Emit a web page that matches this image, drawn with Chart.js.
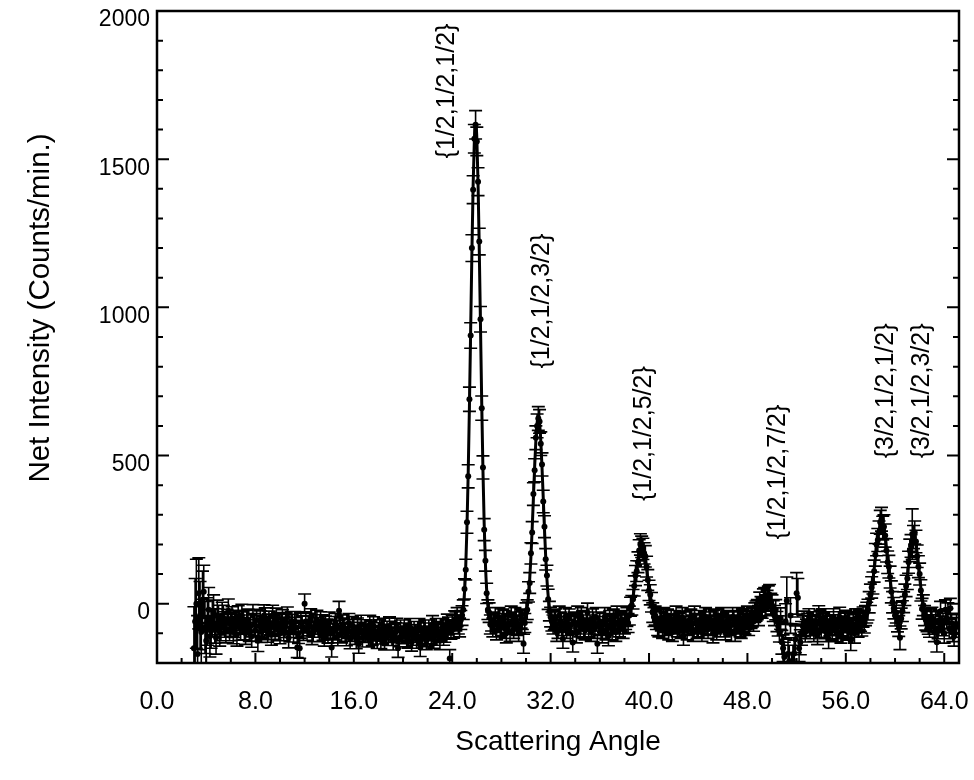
<!DOCTYPE html>
<html><head><meta charset="utf-8">
<script src="https://cdn.jsdelivr.net/npm/chart.js@4.4.1/dist/chart.umd.min.js"></script>
<style>html,body{margin:0;padding:0;background:#fff}#wrap{width:974px;height:780px;position:relative}</style>
</head><body><div id="wrap"><canvas id="c"></canvas></div>
<script>
const FONT = "'Liberation Sans', Arial, Helvetica, sans-serif";

// Scattering angle of each measured point (degrees)
const angles = [
3,3.1,3.2,3.3,3.4,3.5,3.6,3.7,3.8,3.9,
4,4.1,4.2,4.3,4.4,4.5,4.6,4.7,4.8,4.9,
5,5.1,5.2,5.3,5.4,5.5,5.6,5.7,5.8,5.9,
6,6.1,6.2,6.3,6.4,6.5,6.6,6.7,6.8,6.9,
7,7.1,7.2,7.3,7.4,7.5,7.6,7.7,7.8,7.9,
8,8.1,8.2,8.3,8.4,8.5,8.6,8.7,8.8,8.9,
9,9.1,9.2,9.3,9.4,9.5,9.6,9.7,9.8,9.9,
10,10.1,10.2,10.3,10.4,10.5,10.6,10.7,10.8,10.9,
11,11.1,11.2,11.3,11.4,11.5,11.6,11.7,11.8,11.9,
12,12.1,12.2,12.3,12.4,12.5,12.6,12.7,12.8,12.9,
13,13.1,13.2,13.3,13.4,13.5,13.6,13.7,13.8,13.9,
14,14.1,14.2,14.3,14.4,14.5,14.6,14.7,14.8,14.9,
15,15.1,15.2,15.3,15.4,15.5,15.6,15.7,15.8,15.9,
16,16.1,16.2,16.3,16.4,16.5,16.6,16.7,16.8,16.9,
17,17.1,17.2,17.3,17.4,17.5,17.6,17.7,17.8,17.9,
18,18.1,18.2,18.3,18.4,18.5,18.6,18.7,18.8,18.9,
19,19.1,19.2,19.3,19.4,19.5,19.6,19.7,19.8,19.9,
20,20.1,20.2,20.3,20.4,20.5,20.6,20.7,20.8,20.9,
21,21.1,21.2,21.3,21.4,21.5,21.6,21.7,21.8,21.9,
22,22.1,22.2,22.3,22.4,22.5,22.6,22.7,22.8,22.9,
23,23.1,23.2,23.3,23.4,23.5,23.6,23.7,23.8,23.9,
24,24.1,24.2,24.3,24.4,24.5,24.6,24.7,24.8,24.9,
25,25.1,25.2,25.3,25.4,25.5,25.6,25.7,25.8,25.9,
26,26.1,26.2,26.3,26.4,26.5,26.6,26.7,26.8,26.9,
27,27.1,27.2,27.3,27.4,27.5,27.6,27.7,27.8,27.9,
28,28.1,28.2,28.3,28.4,28.5,28.6,28.7,28.8,28.9,
29,29.1,29.2,29.3,29.4,29.5,29.6,29.7,29.8,29.9,
30,30.1,30.2,30.3,30.4,30.5,30.6,30.7,30.8,30.9,
31,31.1,31.2,31.3,31.4,31.5,31.6,31.7,31.8,31.9,
32,32.1,32.2,32.3,32.4,32.5,32.6,32.7,32.8,32.9,
33,33.1,33.2,33.3,33.4,33.5,33.6,33.7,33.8,33.9,
34,34.1,34.2,34.3,34.4,34.5,34.6,34.7,34.8,34.9,
35,35.1,35.2,35.3,35.4,35.5,35.6,35.7,35.8,35.9,
36,36.1,36.2,36.3,36.4,36.5,36.6,36.7,36.8,36.9,
37,37.1,37.2,37.3,37.4,37.5,37.6,37.7,37.8,37.9,
38,38.1,38.2,38.3,38.4,38.5,38.6,38.7,38.8,38.9,
39,39.1,39.2,39.3,39.4,39.5,39.6,39.7,39.8,39.9,
40,40.1,40.2,40.3,40.4,40.5,40.6,40.7,40.8,40.9,
41,41.1,41.2,41.3,41.4,41.5,41.6,41.7,41.8,41.9,
42,42.1,42.2,42.3,42.4,42.5,42.6,42.7,42.8,42.9,
43,43.1,43.2,43.3,43.4,43.5,43.6,43.7,43.8,43.9,
44,44.1,44.2,44.3,44.4,44.5,44.6,44.7,44.8,44.9,
45,45.1,45.2,45.3,45.4,45.5,45.6,45.7,45.8,45.9,
46,46.1,46.2,46.3,46.4,46.5,46.6,46.7,46.8,46.9,
47,47.1,47.2,47.3,47.4,47.5,47.6,47.7,47.8,47.9,
48,48.1,48.2,48.3,48.4,48.5,48.6,48.7,48.8,48.9,
49,49.1,49.2,49.3,49.4,49.5,49.6,49.7,49.8,49.9,
50,50.1,50.2,50.3,50.4,50.5,50.6,50.7,50.8,50.9,
51,51.1,51.2,51.3,51.4,51.5,51.6,51.7,51.8,51.9,
52,52.1,52.2,52.3,52.4,52.5,52.6,52.7,52.8,52.9,
53,53.1,53.2,53.3,53.4,53.5,53.6,53.7,53.8,53.9,
54,54.1,54.2,54.3,54.4,54.5,54.6,54.7,54.8,54.9,
55,55.1,55.2,55.3,55.4,55.5,55.6,55.7,55.8,55.9,
56,56.1,56.2,56.3,56.4,56.5,56.6,56.7,56.8,56.9,
57,57.1,57.2,57.3,57.4,57.5,57.6,57.7,57.8,57.9,
58,58.1,58.2,58.3,58.4,58.5,58.6,58.7,58.8,58.9,
59,59.1,59.2,59.3,59.4,59.5,59.6,59.7,59.8,59.9,
60,60.1,60.2,60.3,60.4,60.5,60.6,60.7,60.8,60.9,
61,61.1,61.2,61.3,61.4,61.5,61.6,61.7,61.8,61.9,
62,62.1,62.2,62.3,62.4,62.5,62.6,62.7,62.8,62.9,
63,63.1,63.2,63.3,63.4,63.5,63.6,63.7,63.8,63.9,
64,64.1,64.2,64.3,64.4,64.5,64.6,64.7,64.8,64.9,
65
];

// Net intensity (counts/min.) of each point
const counts = [
-150,-60,0,-170,35,-40,-95,10,40,-80,
-125,-60,-20,-110,-85,-50,-30,-75,-115,-40,
-55,-95,-80,-40,-50,-70,-90,-60,-24,-85,
-70,-50,-95,-75,-60,-105,-45,-65,-85,-40,
-65,-85,-100,-60,-55,-90,-75,-110,-40,-70,
-90,-55,-125,-75,-60,-95,-80,-40,-50,-85,
-95,-60,-70,-105,-40,-75,-85,-50,-65,-90,
-100,-70,-55,-90,-80,-65,-45,-115,-95,-60,
-70,-95,-60,-80,-148,-100,-150,-65,-75,-90,
0,-60,-90,-75,-65,-50,-105,-95,-80,-70,
-55,-80,-95,-60,-70,-90,-110,-75,-85,-100,
-60,-85,-148,-100,-90,-65,-75,-110,-24,-80,
-100,-70,-80,-95,-110,-85,-65,-120,-95,-75,
-85,-105,-120,-80,-135,-95,-70,-115,-100,-85,
-85,-100,-115,-70,-90,-110,-75,-95,-105,-120,
-95,-85,-120,-105,-80,-125,-100,-90,-110,-75,
-90,-110,-125,-100,-95,-80,-150,-115,-85,-105,
-105,-85,-95,-115,-120,-100,-80,-130,-110,-90,
-100,-120,-90,-80,-148,-110,-105,-95,-85,-125,
-115,-85,-95,-105,-70,-120,-110,-80,-90,-100,
-125,-95,-80,-110,-100,-85,-65,-75,-185,-90,
-70,-85,-55,-60,-45,-70,-80,-55,-40,-20,
50,115,275,430,690,905,1200,1397,1569,1616,
1560,1424,1222,960,660,460,250,145,35,-20,
-30,-70,-60,-80,-60,-45,-90,-65,-45,-80,
-75,-50,-55,-85,-100,-70,-65,-95,-40,-60,
-85,-45,-60,-75,-95,-70,-50,-55,-135,-65,
-30,-20,40,70,170,240,370,450,560,600,
625,615,540,470,345,260,150,95,15,-25,
-45,-60,-70,-55,-50,-95,-85,-40,-60,-75,
-118,-65,-45,-85,-75,-50,-95,-70,-131,-60,
-65,-100,-40,-70,-80,-45,-55,-85,-90,-60,
-30,-80,-70,-95,-50,-60,-85,-45,-135,-75,
-60,-85,-100,-65,-45,-90,-75,-110,-55,-70,
-90,-50,-65,-95,-40,-70,-80,-60,-55,-85,
-70,-55,-45,-65,-40,-10,-5,15,60,95,
110,140,180,200,192,185,170,160,125,80,
45,30,5,-30,-45,-40,-55,-75,-80,-50,
-60,-85,-45,-65,-75,-50,-90,-70,-55,-95,
-70,-55,-40,-80,-65,-60,-85,-45,-108,-75,
-60,-90,-75,-55,-50,-70,-95,-40,-65,-85,
-80,-65,-55,-95,-70,-60,-45,-75,-85,-50,
-60,-75,-100,-55,-70,-90,-50,-65,-80,-45,
-65,-80,-90,-60,-55,-70,-75,-95,-45,-55,
-95,-70,-60,-45,-80,-85,-50,-65,-70,-55,
-40,-75,-60,-50,-45,-60,-30,-25,-20,-40,
5,-10,-15,15,20,-5,10,25,30,0,
-5,-25,-40,-20,-60,-75,-95,-50,-130,-150,
-180,-60,10,-170,-195,-40,-215,-190,-168,-120,
35,20,-150,-130,-100,-75,-60,-95,-85,-65,
-50,-85,-75,-60,-95,-70,-60,-105,-40,-55,
-80,-50,-65,-85,-95,-60,-118,-75,-70,-90,
-50,-70,-85,-95,-60,-45,-100,-80,-75,-65,
-55,-90,-85,-60,-125,-80,-70,-100,-50,-65,
-80,-55,-60,-75,-45,-65,-40,-30,-20,5,
30,55,70,110,165,200,215,240,275,285,
255,260,230,180,140,125,90,40,5,-15,
-40,-30,-60,-75,-115,-50,-25,5,30,60,
85,140,180,195,235,225,240,210,160,125,
100,45,-17,-5,-40,-55,-60,-70,-80,-50,
-45,-70,-95,-60,-130,-85,-55,-25,-75,-65,
-100,-20,-50,-30,-85,-15,-65,-95,-110,-80,
-70
];

// Error (± counts/min.) of each point
const errors = [
140,145,150,130,120,115,110,100,90,88,
85,80,75,70,65,62,60,58,55,52,
50,48,45,45,45,43,42,41,40,40,
40,40,40,39,38,38,38,38,38,38,
37,37,37,37,37,37,37,37,37,37,
36,36,36,36,36,36,36,36,36,36,
35,35,35,35,35,35,35,35,35,35,
35,35,35,35,34,34,34,34,34,34,
34,34,34,34,34,34,34,34,34,34,
33,33,33,33,33,33,33,33,33,33,
33,33,33,33,33,33,33,33,33,33,
32,32,32,32,32,32,32,32,32,32,
32,32,32,32,32,32,32,32,32,32,
32,32,32,32,32,32,31,31,31,31,
31,31,31,31,31,31,31,31,31,31,
31,31,31,31,31,31,31,31,31,31,
31,31,31,31,31,31,31,30,30,30,
30,30,30,30,30,30,30,30,30,30,
30,30,30,30,30,30,30,30,30,30,
30,30,30,30,30,30,30,30,30,30,
30,30,30,30,30,30,30,30,30,30,
31,31,31,32,32,32,32,32,33,33,
34,35,37,39,41,43,45,47,48,48,
48,47,45,43,41,39,37,35,34,33,
33,32,32,32,32,32,32,32,32,32,
32,32,32,32,32,32,32,32,32,32,
32,32,32,32,32,32,32,32,32,32,
33,33,34,35,36,37,38,39,40,40,
40,40,40,39,38,37,36,35,34,33,
33,32,32,32,32,32,32,32,32,32,
32,32,32,32,32,32,32,32,32,32,
32,32,32,32,32,32,32,32,32,32,
32,32,32,32,32,32,32,32,32,32,
32,32,32,32,32,32,32,32,32,32,
32,32,32,32,32,32,32,32,32,32,
32,32,32,32,32,32,33,33,34,34,
35,35,36,36,36,36,36,36,35,35,
34,34,33,33,32,32,32,32,32,32,
32,32,32,32,32,32,32,32,32,32,
32,32,32,32,32,32,32,32,32,32,
32,32,32,32,32,32,32,32,32,32,
32,32,32,32,32,32,32,32,32,32,
32,32,32,32,32,32,32,32,32,32,
32,32,32,32,32,32,32,32,32,32,
32,32,32,32,32,32,32,32,32,32,
32,32,33,33,33,33,33,34,34,34,
34,34,34,35,35,35,35,35,35,35,
35,35,34,34,34,34,34,36,40,45,
50,60,80,55,55,60,50,50,45,45,
70,65,45,42,40,36,35,34,33,33,
33,33,33,33,33,33,33,33,33,33,
33,33,33,33,33,33,33,33,33,33,
33,33,33,33,33,33,33,33,33,33,
33,33,33,33,33,33,33,33,33,33,
33,33,33,34,34,34,34,35,35,36,
36,36,37,37,38,38,39,39,40,40,
40,40,39,39,38,38,37,37,36,36,
35,35,35,35,40,35,35,35,36,36,
37,37,38,38,85,39,39,38,38,37,
37,36,35,35,34,34,34,33,33,33,
33,33,33,33,33,33,33,33,33,33,
33,33,33,33,33,33,33,33,33,33,
33
];

// Fitted curve
const fitAngles = [
3,4,5,6,7,8,9,10,11,12,13,14,15,16,17,18,19,20,21,22,23,24,
24.5,24.6,24.7,24.8,24.9,25,25.1,25.2,25.3,25.4,25.5,25.6,25.7,25.8,25.9,26,26.1,26.2,26.3,26.4,26.5,26.6,26.7,26.8,26.9,27,27.1,27.2,27.3,
28,29,
29.8,29.9,30,30.1,30.2,30.3,30.4,30.5,30.6,30.7,30.8,30.9,31,31.1,31.2,31.3,31.4,31.5,31.6,31.7,31.8,31.9,32,32.1,32.2,
33,34,35,36,37,38,
38.2,38.4,38.6,38.8,39,39.2,39.4,39.6,39.8,40,40.2,40.4,40.6,
41,42,43,44,45,46,47,48,
48.4,48.6,48.8,49,49.2,49.4,49.6,49.8,50,50.2,50.4,50.6,50.8,
52,53,54,55,56,57,
57.4,57.6,57.8,58,58.2,58.4,58.6,58.8,58.9,59,59.2,59.4,59.6,59.8,60,60.2,60.4,60.6,60.8,61,61.2,61.4,61.5,61.6,61.8,62,62.2,62.4,62.6,62.8,
63,64,65
];
const fitCounts = [
-65,-66,-67,-69,-71,-73,-75,-77,-79,-81,-83,-85,-87,-89,-91,-92,-93,-94,-94,-93,-90,-85,
-80,-73,-65,-48,-16,39,127,260,441,667,925,1185,1411,1565,1620,1573,1419,1193,933,675,449,268,135,47,-8,-40,-57,-65,-72,
-68,-68,
-62,-52,-37,-12,27,83,159,252,357,460,550,610,632,610,550,460,357,252,159,83,27,-12,-37,-52,-60,
-68,-68,-68,-68,-68,-67,
-56,-38,-2,53,119,175,197,175,119,53,-2,-38,-56,
-66,-66,-66,-66,-66,-66,-67,-68,
-64,-57,-46,-29,-10,6,12,6,-10,-29,-46,-57,-64,
-70,-72,-72,-72,-72,-71,
-64,-51,-26,18,80,154,223,264,270,264,223,154,80,18,-25,-46,-49,-28,19,93,172,226,233,226,172,93,19,-31,-57,-65,
-68,-68,-68
];

const xTickValues = [0, 8, 16, 24, 32, 40, 48, 56, 64];
const yTickValues = [0, 500, 1000, 1500, 2000];

const peakLabels = ['{1/2,1/2,1/2}', '{1/2,1/2,3/2}', '{1/2,1/2,5/2}', '{1/2,1/2,7/2}', '{3/2,1/2,1/2}', '{3/2,1/2,3/2}'];
const peakLabelAngles = [23.62, 31.34, 39.59, 50.53, 59.27, 62.24];
const peakLabelCounts = [1730, 1021, 574, 444, 718, 718];

const yTitle = 'Net Intensity (Counts/min.)';
const xTitle = 'Scattering Angle';

const decor = {
  id: 'decor',
  beforeDatasetsDraw(chart) {
    const {ctx, chartArea: a, scales: {x, y}} = chart;
    ctx.save();
    ctx.beginPath(); ctx.rect(a.left, a.top, a.right - a.left, a.bottom - a.top); ctx.clip();
    ctx.strokeStyle = '#000'; ctx.lineWidth = 1.6;
    ctx.beginPath();
    angles.forEach((ang, i) => {
      const px = x.getPixelForValue(ang);
      const t = y.getPixelForValue(counts[i] + errors[i]);
      const b = y.getPixelForValue(counts[i] - errors[i]);
      ctx.moveTo(px, t); ctx.lineTo(px, b);
      ctx.moveTo(px - 6.5, t); ctx.lineTo(px + 6.5, t);
      ctx.moveTo(px - 6.5, b); ctx.lineTo(px + 6.5, b);
    });
    ctx.stroke();
    ctx.restore();
  },
  afterDatasetsDraw(chart) {
    const {ctx, chartArea: a, scales: {x, y}} = chart;
    ctx.save();
    ctx.strokeStyle = '#000'; ctx.lineWidth = 2;
    ctx.beginPath();
    x.ticks.forEach(t => {
      if (t.value <= x.min || t.value >= x.max) return;
      const px = x.getPixelForValue(t.value);
      const len = xTickValues.includes(t.value) ? 10 : 5;
      ctx.moveTo(px, a.bottom); ctx.lineTo(px, a.bottom - len);
    });
    y.ticks.forEach(t => {
      if (t.value <= y.min || t.value >= y.max) return;
      const py = y.getPixelForValue(t.value);
      const len = yTickValues.includes(t.value) ? 12 : 6;
      ctx.moveTo(a.left, py); ctx.lineTo(a.left + len, py);
      ctx.moveTo(a.right, py); ctx.lineTo(a.right - len, py);
    });
    ctx.stroke();
    ctx.lineWidth = 2.5;
    ctx.strokeRect(a.left, a.top, a.right - a.left, a.bottom - a.top);
    ctx.fillStyle = '#000';
    ctx.font = '25px ' + FONT;
    ctx.textAlign = 'center'; ctx.textBaseline = 'middle';
    peakLabels.forEach((s, i) => {
      ctx.save();
      ctx.translate(x.getPixelForValue(peakLabelAngles[i]), y.getPixelForValue(peakLabelCounts[i]));
      ctx.rotate(-Math.PI / 2);
      ctx.fillText(s, 0, 0);
      ctx.restore();
    });
    ctx.restore();
  },
  afterDraw(chart) {
    const {ctx} = chart;
    ctx.save();
    ctx.fillStyle = '#000';
    ctx.font = '29.5px ' + FONT;
    ctx.textAlign = 'center'; ctx.textBaseline = 'middle';
    ctx.translate(41, 308);
    ctx.rotate(-Math.PI / 2);
    ctx.fillText(yTitle, 0, 0);
    ctx.restore();
  }
};

Chart.defaults.font.family = FONT;
Chart.defaults.color = '#000';

new Chart(document.getElementById('c'), {
  type: 'scatter',
  data: {
    datasets: [
      {
        label: 'Measured',
        data: angles.map((a, i) => ({x: a, y: counts[i]})),
        pointRadius: 3, pointBackgroundColor: '#000', pointBorderColor: '#000', pointBorderWidth: 0,
        showLine: false
      },
      {
        type: 'line',
        label: 'Fit',
        data: fitAngles.map((a, i) => ({x: a, y: fitCounts[i]})),
        borderColor: '#000', borderWidth: 3, pointRadius: 0, fill: false,
        cubicInterpolationMode: 'monotone'
      }
    ]
  },
  options: {
    responsive: true, maintainAspectRatio: false, animation: false, devicePixelRatio: 1,
    layout: {padding: {left: 0, top: 11, right: 15, bottom: 0}},
    plugins: {legend: {display: false}, tooltip: {enabled: false}},
    scales: {
      x: {
        type: 'linear', min: 0, max: 65.2,
        afterFit(s) { s.height = 117; s.paddingLeft = 0; s.paddingRight = 0; },
        grid: {display: false, drawTicks: false},
        border: {display: false},
        ticks: {
          stepSize: 2, includeBounds: false, autoSkip: false, maxRotation: 0, padding: 24, color: '#000',
          font: {size: 25},
          callback(v) { return xTickValues.includes(v) ? v.toFixed(1) : ''; }
        },
        title: {display: true, text: xTitle, color: '#000', font: {size: 28}, padding: {top: 0, bottom: 21}}
      },
      y: {
        min: -200, max: 2000,
        afterFit(s) { s.width = 157; s.paddingTop = 0; s.paddingBottom = 0; },
        grid: {display: false, drawTicks: false},
        border: {display: false},
        ticks: {
          stepSize: 100, autoSkip: false, padding: 7, labelOffset: 9, color: '#000',
          font: {size: 23},
          callback(v) { return yTickValues.includes(v) ? String(v) : ''; }
        }
      }
    }
  },
  plugins: [decor]
});
</script>
</body></html>
